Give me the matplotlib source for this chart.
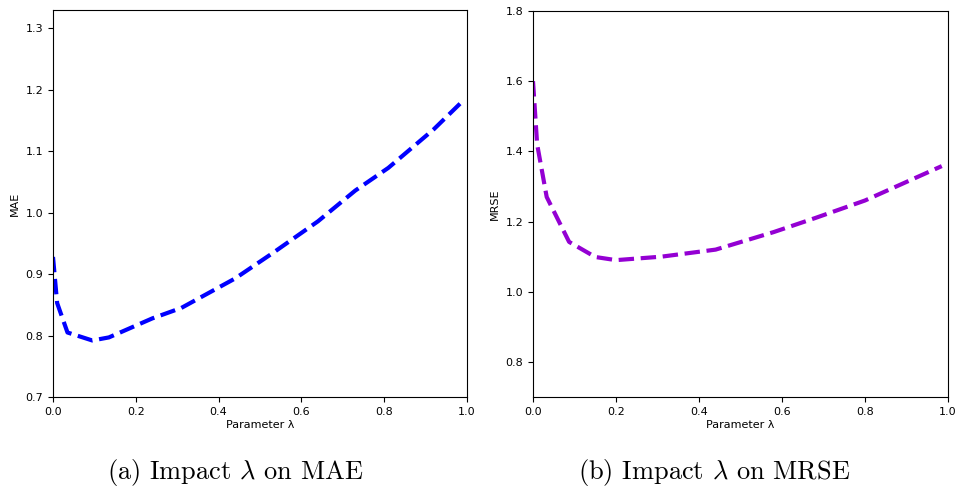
import matplotlib
matplotlib.use("Agg")
import matplotlib.pyplot as plt

# Data
lam_mae = [0.0, 0.01, 0.035, 0.095, 0.135, 0.24, 0.31, 0.44, 0.53, 0.64, 0.73, 0.81, 0.92, 0.99]
mae = [0.928, 0.853, 0.805, 0.792, 0.797, 0.828, 0.845, 0.893, 0.934, 0.986, 1.036, 1.073, 1.136, 1.182]

lam_mrse = [0.0, 0.01, 0.033, 0.087, 0.15, 0.2, 0.31, 0.44, 0.58, 0.68, 0.8, 0.985]
mrse = [1.60, 1.42, 1.27, 1.142, 1.099, 1.09, 1.10, 1.12, 1.17, 1.21, 1.26, 1.358]

xticks = [0.0, 0.2, 0.4, 0.6, 0.8, 1.0]
mae_yticks = [0.7, 0.8, 0.9, 1.0, 1.1, 1.2, 1.3]
mrse_yticks = [0.8, 1.0, 1.2, 1.4, 1.6, 1.8]

captions = [r"(a) Impact $\lambda$ on MAE", r"(b) Impact $\lambda$ on MRSE"]

plt.rcParams['mathtext.fontset'] = 'cm'

fig = plt.figure(figsize=(9.59, 4.9), dpi=100)
ax1 = fig.add_axes([53/959, 1-397/490, 414/959, 387/490])
ax2 = fig.add_axes([533/959, 1-397/490, 415/959, 386/490])

ax1.plot(lam_mae, mae, linestyle='--', color='blue', linewidth=3)
ax1.set_xlim(0, 1)
ax1.set_ylim(0.7, 1.33)
ax1.set_xticks(xticks)
ax1.set_yticks(mae_yticks)
ax1.set_ylabel("MAE", fontsize=8)
ax1.set_xlabel("Parameter λ", fontsize=8, labelpad=2)

ax2.plot(lam_mrse, mrse, linestyle='--', color='darkviolet', linewidth=3)
ax2.set_xlim(0, 1)
ax2.set_ylim(0.7, 1.8)
ax2.set_xticks(xticks)
ax2.set_yticks(mrse_yticks)
ax2.set_ylabel("MRSE", fontsize=8)
ax2.set_xlabel("Parameter λ", fontsize=8, labelpad=2)

for ax in (ax1, ax2):
    ax.tick_params(labelsize=8, length=3.5, width=0.8)
    ax.yaxis.set_major_formatter(matplotlib.ticker.FormatStrFormatter('%.1f'))
    ax.xaxis.set_major_formatter(matplotlib.ticker.FormatStrFormatter('%.1f'))

fig.text(235/959, 1-472/490, captions[0], ha='center', va='center', fontsize=19, family='cmr10')
fig.text(714/959, 1-472/490, captions[1], ha='center', va='center', fontsize=19, family='cmr10')

fig.savefig("out.png", dpi=100)
